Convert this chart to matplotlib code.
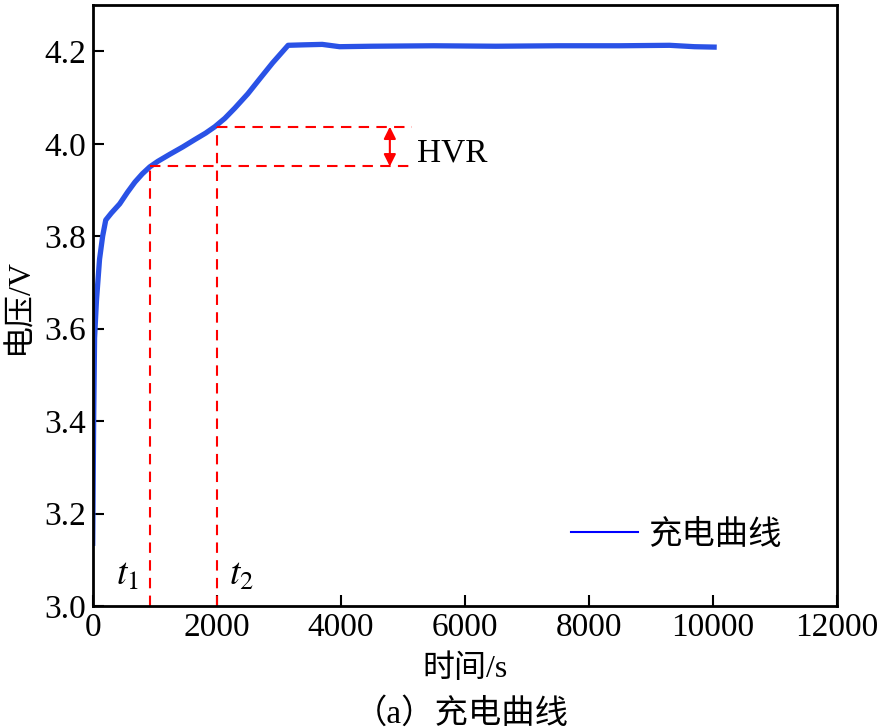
# -*- coding: utf-8 -*-

import matplotlib.pyplot as plt
from matplotlib.lines import Line2D

plt.rcParams['font.family'] = ['Liberation Serif', 'Noto Sans CJK SC']
plt.rcParams['mathtext.fontset'] = 'stix'

# charge curve
t = [0, 15, 30, 60, 110, 160, 210, 300, 435, 560, 680, 800, 920, 1050, 1240,
     1450, 1645, 1820, 1970, 2130, 2290, 2500, 2690, 2900, 3150, 3400, 3700,
     3980, 4500, 5500, 6500, 7500, 8500, 9300, 9700, 10060]
v = [3.13, 3.40, 3.58, 3.66, 3.75, 3.80, 3.835, 3.85, 3.87, 3.895, 3.917,
     3.935, 3.95, 3.962, 3.977, 3.993, 4.009, 4.023, 4.037, 4.055, 4.077,
     4.108, 4.14, 4.175, 4.213, 4.214, 4.215, 4.210, 4.211, 4.212, 4.211,
     4.212, 4.212, 4.213, 4.210, 4.209]

t1, t2 = 930, 2000
v1, v2 = 3.951, 4.037
x_end = 5150
x_arrow = 4790

fig = plt.figure(figsize=(8.83, 7.28), dpi=100)
ax = fig.add_axes([0.105, 0.1676, 0.843, 0.8254])

ax.plot(t, v, color='#2a52e6', lw=3.8, solid_capstyle='butt')

red = dict(color='red', ls=(0, (5, 3.5)), lw=1.5)
ax.plot([t1, t1], [3.0, v1], **red)
ax.plot([t2, t2], [3.0, v2], **red)
ax.plot([t1, x_end], [v1, v1], **red)
ax.plot([t2, x_end], [v2, v2], **red)
ax.annotate('', xy=(x_arrow, v2), xytext=(x_arrow, v1),
            arrowprops=dict(arrowstyle='<|-|>', color='red', lw=1.5,
                            mutation_scale=18, shrinkA=0, shrinkB=0))
ax.text(5230, 3.98, 'HVR', fontsize=24, va='center', ha='left')
ax.text(565, 3.065, '$t_1$', fontsize=27, ha='center', va='center')
ax.text(2390, 3.065, '$t_2$', fontsize=27, ha='center', va='center')

ax.set_xlim(0, 12000)
ax.set_ylim(3.0, 4.3)
ax.set_xticks([0, 2000, 4000, 6000, 8000, 10000, 12000])
ax.set_yticks([3.0, 3.2, 3.4, 3.6, 3.8, 4.0, 4.2])
ax.set_yticklabels(['3.0', '3.2', '3.4', '3.6', '3.8', '4.0', '4.2'])
ax.tick_params(direction='in', length=8, width=1.5, labelsize=24, pad=5)
for s in ax.spines.values():
    s.set_linewidth(2)

ax.set_xlabel('时间/s', fontsize=23, labelpad=8)
ax.set_ylabel('电压/V', fontsize=23, labelpad=7)

h = Line2D([0], [0], color='blue', lw=1.5)
ax.legend([h], ['充电曲线'], loc='center right', frameon=False, fontsize=24,
          bbox_to_anchor=(0.925, 0.118), handlelength=2.0, handletextpad=0.3,
          borderpad=0, borderaxespad=0)

fig.text(0.522, 0.02, '（a）充电曲线', fontsize=24, ha='center', va='center')

fig.savefig('out.png')
